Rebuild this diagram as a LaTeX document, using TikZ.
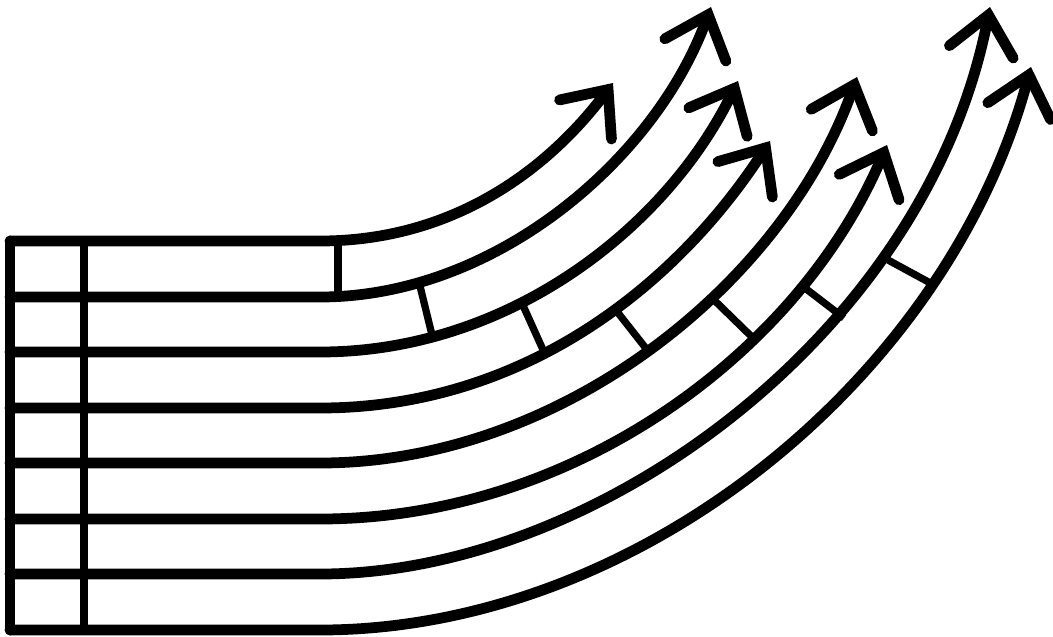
\documentclass[tikz,border=0pt]{standalone}
\usetikzlibrary{arrows.meta, calc}

\begin{document}
\begin{tikzpicture}[
        x=0.02cm, y=-0.02cm,
        rail/.style={line width=0.215cm, line cap=round, line join=round},
        divider/.style={line width=0.145cm},
        lane arrow/.style={-{Straight Barb[length=0.75cm, width=1.3cm, line cap=round, line join=miter]}}
    ]
        \useasboundingbox (0,0) rectangle (1053,636);

        % Rows
        \foreach \n/\y in {1/241, 2/297, 3/352, 4/408, 5/463, 6/519, 7/574, 8/630} {
            \coordinate (row\n) at (10,\y);
            \coordinate (col\n) at (84,\y);
            \coordinate (bend\n) at (320,\y);
        }

        % Arrow tips
        \coordinate (tip1) at (613,83);
        \coordinate (tip2) at (711,7);
        \coordinate (tip3) at (738,81);
        \coordinate (tip4) at (770,141);
        \coordinate (tip5) at (857,77);
        \coordinate (tip6) at (887,145);
        \coordinate (tip7) at (990,7);
        \coordinate (tip8) at (1031,67);

        % Dividers
        \draw[divider] (col1) -- (col8);
        \foreach \xa/\ya/\xb/\yb in {338/240/338/294, 419/282/432/335, 521/301/544/352, 615/309/648/351,
                                     713/299/752/337, 801/285/844/318, 888/260/934/285} {
            \draw[divider] (\xa,\ya) -- (\xb,\yb);
        }

        % Frame
        \draw[rail] (row1) -- (row8);

        % Lanes
        \foreach \n/\a/\ka/\kb in {1/53/132/110, 2/70/176/161, 3/64/188/164, 4/57/203/173,
                                   5/70.6/242/218, 6/67/255/224, 7/79/280/330, 8/75/320/320} {
            \draw[rail, lane arrow] (row\n) -- (bend\n)
                .. controls ($(bend\n)+(\ka,0)$) and ($(tip\n)+(180-\a:\kb)$) .. (tip\n);
        }

    \end{tikzpicture}
\end{document}
